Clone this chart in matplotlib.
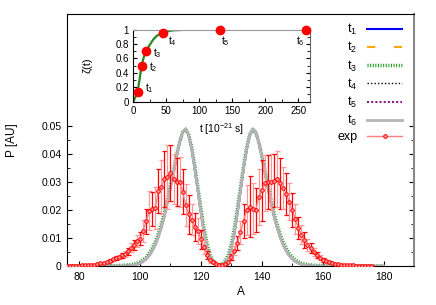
"""Fragment mass distribution P(A) with time-dependence inset."""

import matplotlib

matplotlib.use("Agg")
import matplotlib.pyplot as plt
from matplotlib.ticker import FixedLocator, MultipleLocator

plt.rcParams["font.family"] = ["Liberation Sans", "DejaVu Sans"]
plt.rcParams["mathtext.default"] = "regular"

# theory curves, A = 76 .. 180
a_theory = list(range(76, 181))
p_base = [
    0, 0, 0, 0, 0, 0, 0, 0, 0, 0,                                  # 76-85
    0, 0, 0, 0, 0, 0, 0, 0, 0, 0,                                  # 86-95
    0.0001, 0.0002, 0.0003, 0.0006, 0.0010, 0.0016, 0.0025,        # 96-102
    0.0037, 0.0054, 0.0076, 0.0104, 0.0138, 0.0178, 0.0228,        # 103-109
    0.0280, 0.0333, 0.0390, 0.0442, 0.0480, 0.0490, 0.0466,        # 110-116
    0.0415, 0.0345, 0.0268, 0.0190, 0.0118, 0.0062, 0.0028,        # 117-123
    0.0010, 0.0003, 0.0001, 0.0003, 0.0010, 0.0028, 0.0062,        # 124-130
    0.0118, 0.0190, 0.0268, 0.0345, 0.0415, 0.0466, 0.0490,        # 131-137
    0.0480, 0.0442, 0.0390, 0.0333, 0.0280, 0.0228, 0.0178,        # 138-144
    0.0138, 0.0104, 0.0076, 0.0054, 0.0037, 0.0025, 0.0016,        # 145-151
    0.0010, 0.0006, 0.0003, 0.0002, 0.0001,                        # 152-156
    0, 0, 0, 0, 0, 0, 0, 0, 0, 0, 0, 0, 0, 0, 0, 0, 0, 0, 0, 0,   # 157-176
    0, 0, 0, 0,                                                    # 177-180
]
p_wide = [
    0, 0, 0, 0, 0, 0, 0, 0, 0, 0,                                  # 76-85
    0, 0, 0, 0, 0.0001, 0.0001, 0.0001, 0.0002, 0.0002, 0.0003,    # 86-95
    0.0004, 0.0005, 0.0007, 0.0010, 0.0015, 0.0022, 0.0032,        # 96-102
    0.0046, 0.0064, 0.0087, 0.0116, 0.0151, 0.0191, 0.0239,        # 103-109
    0.0290, 0.0343, 0.0397, 0.0443, 0.0476, 0.0487, 0.0468,        # 110-116
    0.0422, 0.0357, 0.0282, 0.0207, 0.0137, 0.0080, 0.0041,        # 117-123
    0.0018, 0.0007, 0.0004, 0.0007, 0.0018, 0.0041, 0.0080,        # 124-130
    0.0137, 0.0207, 0.0282, 0.0357, 0.0422, 0.0468, 0.0487,        # 131-137
    0.0476, 0.0443, 0.0397, 0.0343, 0.0290, 0.0239, 0.0191,        # 138-144
    0.0151, 0.0116, 0.0087, 0.0064, 0.0046, 0.0032, 0.0022,        # 145-151
    0.0015, 0.0010, 0.0007, 0.0005, 0.0004,                        # 152-156
    0.0003, 0.0002, 0.0002, 0.0001, 0.0001, 0.0001, 0, 0, 0, 0,   # 157-166
    0, 0, 0, 0, 0, 0, 0, 0, 0, 0, 0, 0, 0, 0,                      # 167-180
]

# experiment, A = 76 .. 176
a_exp = list(range(76, 177))
p_exp = [
    0.0001, 0.0001, 0.0001, 0.0001, 0.0001, 0.0002, 0.0002, 0.0003, 0.0004, 0.0005,  # 76-85
    0.0007, 0.0009, 0.0012, 0.0015, 0.0019, 0.0024, 0.0028, 0.0033, 0.0038, 0.0044,  # 86-95
    0.0053, 0.0065, 0.0076, 0.0088, 0.0098, 0.0125, 0.0160, 0.0197, 0.0203, 0.0207,  # 96-105
    0.0268, 0.0282, 0.0312, 0.0318, 0.0333, 0.0310, 0.0300, 0.0300, 0.0265, 0.0218,  # 106-115
    0.0185, 0.0165, 0.0140, 0.0125, 0.0095, 0.0068, 0.0040, 0.0020, 0.0014, 0.0008,  # 116-125
    0.0004, 0.0004, 0.0007, 0.0016, 0.0032, 0.0055, 0.0082, 0.0120, 0.0160, 0.0200,  # 126-135
    0.0212, 0.0205, 0.0200, 0.0245, 0.0270, 0.0295, 0.0300, 0.0300, 0.0305, 0.0312,  # 136-145
    0.0295, 0.0280, 0.0258, 0.0230, 0.0200, 0.0168, 0.0135, 0.0112, 0.0093, 0.0076,  # 146-155
    0.0063, 0.0051, 0.0040, 0.0030, 0.0023, 0.0017, 0.0013, 0.0010, 0.0008, 0.0006,  # 156-165
    0.0005, 0.0004, 0.0003, 0.0002, 0.0002, 0.0001, 0.0001, 0.0001, 0.0001, 0.0001,  # 166-175
    0.0001,                                                                          # 176
]
err_exp = [
    0.0001, 0.0001, 0.0001, 0.0001, 0.0001, 0.0001, 0.0001, 0.0001, 0.0002, 0.0002,
    0.0002, 0.0003, 0.0003, 0.0004, 0.0005, 0.0006, 0.0007, 0.0008, 0.0009, 0.0011,
    0.0013, 0.0016, 0.0018, 0.0021, 0.0024, 0.0040, 0.0045, 0.0070, 0.0060, 0.0075,
    0.0080, 0.0095, 0.0100, 0.0115, 0.0100, 0.0090, 0.0085, 0.0090, 0.0080, 0.0075,
    0.0070, 0.0055, 0.0050, 0.0045, 0.0035, 0.0025, 0.0015, 0.0008, 0.0005, 0.0003,
    0.0002, 0.0002, 0.0003, 0.0005, 0.0010, 0.0015, 0.0025, 0.0040, 0.0060, 0.0090,
    0.0110, 0.0090, 0.0080, 0.0100, 0.0110, 0.0100, 0.0095, 0.0100, 0.0095, 0.0100,
    0.0090, 0.0075, 0.0075, 0.0065, 0.0060, 0.0055, 0.0040, 0.0035, 0.0030, 0.0022,
    0.0018, 0.0014, 0.0011, 0.0009, 0.0007, 0.0005, 0.0004, 0.0003, 0.0003, 0.0002,
    0.0002, 0.0002, 0.0001, 0.0001, 0.0001, 0.0001, 0.0001, 0.0001, 0.0001, 0.0001,
    0.0001,
]

# inset: zeta(t)
t_curve = [0, 2, 4, 6, 8, 10, 12, 14, 16, 18, 20, 25, 30, 35, 40, 45, 50, 60, 75, 100, 268]
zeta_curve = [0, 0.04, 0.08, 0.13, 0.22, 0.34, 0.46, 0.55, 0.62, 0.67, 0.71,
              0.79, 0.86, 0.91, 0.94, 0.96, 0.975, 0.99, 0.997, 1.0, 1.0]
t_marks = [6.7, 12.8, 19.8, 45.6, 131.5, 262]
zeta_marks = [0.14, 0.50, 0.70, 0.96, 1.0, 1.0]
mark_labels = ["$t_1$", "$t_2$", "$t_3$", "$t_4$", "$t_5$", "$t_6$"]
label_pos = [(24, 0.19), (30, 0.48), (37, 0.68), (60, 0.84), (139, 0.84), (254, 0.84)]

fig = plt.figure(figsize=(4.36, 3.05), dpi=100)
ax = fig.add_axes([0.1537, 0.1279, 0.7958, 0.8262])

ax.plot(a_theory, p_base, color="#0000ff", lw=1.5, label="$t_1$")
ax.plot(a_theory, p_base, color="#ffa500", lw=1.5, dashes=(4, 9), label="$t_2$")
ax.plot(a_theory, p_wide, color="#1a9a1a", lw=2.5, dashes=(0.3, 0.45), label="$t_3$")
ax.plot(a_theory, p_base, color="black", lw=1.0, dashes=(1, 1.5), label="$t_4$")
ax.plot(a_theory, p_base, color="#8b1a8b", lw=1.5, dashes=(1, 1), label="$t_5$")
ax.plot(a_theory, p_base, color="#b4b4b4", lw=2.0, label="$t_6$")

ax.plot(a_exp, p_exp, color="#ff8080", lw=1.0, marker="o", ms=2.6,
        mfc="#ff9999", mec="red", mew=0.7, label="exp", zorder=5)
for i in range(len(a_exp)):
    c = "red" if i % 2 == 0 else "#ff9999"
    ax.errorbar(a_exp[i], p_exp[i], yerr=err_exp[i], fmt="none", ecolor=c,
                elinewidth=0.9, capsize=1.8, capthick=0.9, zorder=4)

ax.set_xlim(76, 190)
ax.set_ylim(0, 0.09)
ax.xaxis.set_major_locator(FixedLocator([80, 100, 120, 140, 160, 180]))
ax.xaxis.set_minor_locator(FixedLocator([90, 110, 130, 150, 170]))
ax.yaxis.set_major_locator(FixedLocator([0, 0.01, 0.02, 0.03, 0.04, 0.05]))
ax.yaxis.set_minor_locator(FixedLocator([0.005, 0.015, 0.025, 0.035, 0.045]))
ax.set_yticklabels(["0", "0.01", "0.02", "0.03", "0.04", "0.05"])
ax.tick_params(which="both", direction="in", top=False, right=True, labelsize=7.5, pad=4)
ax.tick_params(which="major", length=3.5)
ax.tick_params(which="minor", length=2.5)
ax.spines["right"].set_color("#888888")
ax.spines["right"].set_linewidth(1.5)
ax.set_xlabel("A", fontsize=8.5, labelpad=3)
ax.set_ylabel("P [AU]", fontsize=8.5, labelpad=17)

leg = ax.legend(loc="upper right", bbox_to_anchor=(0.99, 1.0), frameon=False,
                markerfirst=False, fontsize=9, handlelength=2.8,
                labelspacing=0.25, handletextpad=0.8, borderaxespad=0.25)

ins = fig.add_axes([0.3057, 0.6666, 0.4053, 0.2361])
ins.plot(t_curve, zeta_curve, color="#228b22", lw=1.6)
ins.plot(t_marks, zeta_marks, "o", color="red", ms=6, zorder=5, clip_on=False)
for lab, (tx, ty) in zip(mark_labels, label_pos):
    ins.text(tx, ty, lab, fontsize=7.5, ha="center", va="center")
ins.set_xlim(0, 268)
ins.set_ylim(0, 1)
ins.xaxis.set_major_locator(MultipleLocator(50))
ins.xaxis.set_minor_locator(MultipleLocator(25))
ins.yaxis.set_major_locator(MultipleLocator(0.2))
ins.yaxis.set_minor_locator(MultipleLocator(0.1))
ins.yaxis.set_major_formatter(plt.FuncFormatter(lambda v, p: f"{v:g}"))
ins.tick_params(which="both", direction="in", top=False, right=True, labelsize=7, pad=3)
ins.tick_params(which="major", length=3)
ins.tick_params(which="minor", length=2)
ins.spines["top"].set_color("#999999")
ins.spines["right"].set_color("#666666")
ins.set_xlabel("t [10$^{-21}$ s]", fontsize=7.5, labelpad=4)
ins.set_ylabel("ζ(t)", fontsize=8, labelpad=17)

fig.savefig("out.png", dpi=100)
